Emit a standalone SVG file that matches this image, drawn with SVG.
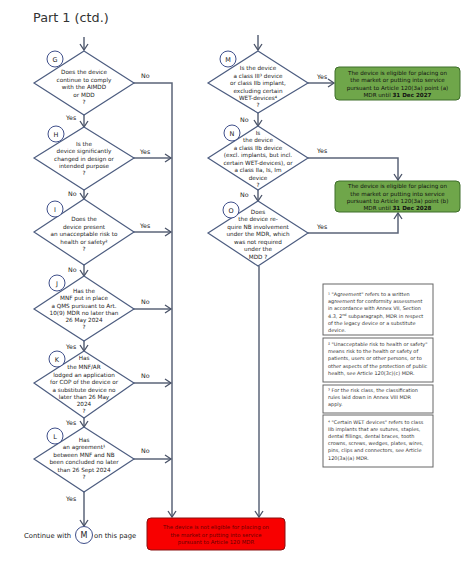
<svg xmlns="http://www.w3.org/2000/svg" width="474" height="571" viewBox="0 0 474 571">
<style>
text{font-family:"DejaVu Sans",Verdana,sans-serif;fill:#222}
.dt{font-size:5.7px;text-anchor:middle}
.lb{font-size:6.3px}
.dia{fill:#fff;stroke:#4d5d80;stroke-width:1.2}
.cir{fill:#fff;stroke:#3f4f8a;stroke-width:1}
.ct{font-size:6.5px;text-anchor:middle}
.con{fill:none;stroke:#5b6478;stroke-width:1.5}
.gb{fill:#6fa64a;stroke:#3e6e2a;stroke-width:1}
.gt{font-size:5.6px;text-anchor:middle;fill:#111}
.fn{fill:#fff;stroke:#666;stroke-width:1}
.ft{font-size:4.95px;fill:#333}
</style>
<defs>
<marker id="ar" markerUnits="userSpaceOnUse" markerWidth="10" markerHeight="10" refX="7" refY="5" orient="auto">
<path d="M1,1 L7,5 L1,9" fill="none" stroke="#4a5368" stroke-width="1.3"/>
</marker>
</defs>
<text x="33" y="22" style="font-size:12.8px;fill:#333">Part 1 (ctd.)</text>

<g id="connectors">
<path class="con" d="M84,37 V50" marker-end="url(#ar)"/>
<path class="con" d="M133,83 H172 V517" marker-end="url(#ar)"/>
<path class="con" d="M84,115 V127" marker-end="url(#ar)"/>
<path class="con" d="M133,158 H171" marker-end="url(#ar)"/>
<path class="con" d="M84,190 V199" marker-end="url(#ar)"/>
<path class="con" d="M133,232 H171" marker-end="url(#ar)"/>
<path class="con" d="M84,265 V276" marker-end="url(#ar)"/>
<path class="con" d="M133,309 H171" marker-end="url(#ar)"/>
<path class="con" d="M84,340 V351" marker-end="url(#ar)"/>
<path class="con" d="M133,383 H171" marker-end="url(#ar)"/>
<path class="con" d="M84,418 V427" marker-end="url(#ar)"/>
<path class="con" d="M133,459 H171" marker-end="url(#ar)"/>
<path class="con" d="M84,492 V526" marker-end="url(#ar)"/>
<path class="con" d="M258,35 V50" marker-end="url(#ar)"/>
<path class="con" d="M308,83 H334" marker-end="url(#ar)"/>
<path class="con" d="M258,113 V126" marker-end="url(#ar)"/>
<path class="con" d="M308,158 H398 V180" marker-end="url(#ar)"/>
<path class="con" d="M258,190 V201" marker-end="url(#ar)"/>
<path class="con" d="M308,233 H398 V213" marker-end="url(#ar)"/>
<path class="con" d="M259,266 V517" marker-end="url(#ar)"/>
<text class="lb" x="141" y="78">No</text>
<text class="lb" x="66" y="120">Yes</text>
<text class="lb" x="140" y="154">Yes</text>
<text class="lb" x="68" y="196">No</text>
<text class="lb" x="140" y="228">Yes</text>
<text class="lb" x="68" y="272">No</text>
<text class="lb" x="141" y="304">No</text>
<text class="lb" x="66" y="349">Yes</text>
<text class="lb" x="141" y="378">No</text>
<text class="lb" x="66" y="425">Yes</text>
<text class="lb" x="141" y="453">No</text>
<text class="lb" x="66" y="501">Yes</text>
<text class="lb" x="317" y="79">Yes</text>
<text class="lb" x="240" y="122">No</text>
<text class="lb" x="317" y="153">Yes</text>
<text class="lb" x="240" y="197">No</text>
<text class="lb" x="317" y="229">Yes</text>
</g>

<g id="G">
<polygon class="dia" points="84,51 134,83 84,115 34,83"/>
<circle class="cir" cx="55" cy="59" r="8"/><text class="ct" x="55" y="61.5">G</text>
<text class="dt" x="84" y="74">Does the device</text>
<text class="dt" x="84" y="81.5">continue to comply</text>
<text class="dt" x="84" y="89">with the AIMDD</text>
<text class="dt" x="84" y="96.5">or MDD</text>
<text class="dt" x="84" y="104">?</text>
</g>
<g id="H">
<polygon class="dia" points="84,127 134,158 84,190 34,158"/>
<circle class="cir" cx="56" cy="134" r="8"/><text class="ct" x="56" y="136.5">H</text>
<text class="dt" x="84" y="146">Is the</text>
<text class="dt" x="84" y="153">device significantly</text>
<text class="dt" x="84" y="160.5">changed in design or</text>
<text class="dt" x="84" y="168">intended purpose</text>
<text class="dt" x="84" y="175">?</text>
</g>
<g id="I">
<polygon class="dia" points="84,199 134,232 84,265 34,232"/>
<circle class="cir" cx="55" cy="209" r="8"/><text class="ct" x="55" y="211.5">I</text>
<text class="dt" x="84" y="221">Does the</text>
<text class="dt" x="84" y="228.5">device present</text>
<text class="dt" x="84" y="236">an unacceptable risk to</text>
<text class="dt" x="84" y="243.5">health or safety²</text>
<text class="dt" x="84" y="251">?</text>
</g>
<g id="J">
<polygon class="dia" points="84,276 134,309 84,341 34,309"/>
<circle class="cir" cx="57" cy="283" r="8"/><text class="ct" x="57" y="285.5">J</text>
<text class="dt" x="84" y="293">Has the</text>
<text class="dt" x="84" y="300">MNF put in place</text>
<text class="dt" x="84" y="307.5">a QMS pursuant to Art.</text>
<text class="dt" x="84" y="315">10(9) MDR no later than</text>
<text class="dt" x="84" y="322">26 May 2024</text>
<text class="dt" x="84" y="329">?</text>
</g>
<g id="K">
<polygon class="dia" points="84,351 134,383 84,418 34,383"/>
<circle class="cir" cx="57" cy="359" r="8"/><text class="ct" x="57" y="361.5">K</text>
<text class="dt" x="84" y="360">Has</text>
<text class="dt" x="84" y="369">the MNF/AR</text>
<text class="dt" x="84" y="376.5">lodged an application</text>
<text class="dt" x="84" y="384">for COP of the device or</text>
<text class="dt" x="84" y="391.5">a substitute device no</text>
<text class="dt" x="84" y="399">later than 26 May</text>
<text class="dt" x="84" y="406">2024</text>
<text class="dt" x="84" y="413">?</text>
</g>
<g id="L">
<polygon class="dia" points="84,427 134,459 84,492 34,459"/>
<circle class="cir" cx="55" cy="436" r="8"/><text class="ct" x="55" y="438.5">L</text>
<text class="dt" x="84" y="442">Has</text>
<text class="dt" x="84" y="449">an agreement¹</text>
<text class="dt" x="84" y="456.5">between MNF and NB</text>
<text class="dt" x="84" y="464">been concluded no later</text>
<text class="dt" x="84" y="471.5">than 26 Sept 2024</text>
<text class="dt" x="84" y="479">?</text>
</g>
<g id="continue">
<text x="24" y="537.5" style="font-size:6.8px">Continue with</text>
<circle class="cir" cx="84" cy="535" r="8.5"/><text class="ct" x="84" y="538" style="font-size:8px">M</text>
<text x="94" y="537.5" style="font-size:6.8px">on this page</text>
</g>
<g id="red">
<rect x="147" y="518" width="138" height="32" rx="4" fill="#f80000" stroke="#8a1010" stroke-width="1"/>
<text x="216" y="529" style="font-size:5.4px;text-anchor:middle;fill:#6a0000">The device is not eligible for placing on</text>
<text x="216" y="536.5" style="font-size:5.4px;text-anchor:middle;fill:#6a0000">the market or putting into service</text>
<text x="216" y="544" style="font-size:5.4px;text-anchor:middle;fill:#6a0000">pursuant to Article 120 MDR</text>
</g>

<g id="M">
<polygon class="dia" points="258,51 308,83 258,113 208,83"/>
<circle class="cir" cx="228" cy="59" r="8"/><text class="ct" x="228" y="61.5">M</text>
<text class="dt" x="258" y="70">Is the device</text>
<text class="dt" x="258" y="77.5">a class III³ device</text>
<text class="dt" x="258" y="85">or class IIb implant,</text>
<text class="dt" x="258" y="92.5">excluding certain</text>
<text class="dt" x="258" y="100">WET-devices⁴</text>
<text class="dt" x="258" y="107">?</text>
</g>
<g id="green1">
<rect class="gb" x="335" y="67" width="125" height="33" rx="4"/>
<text class="gt" x="397.5" y="74.5">The device is eligible for placing on</text>
<text class="gt" x="397.5" y="82">the market or putting into service</text>
<text class="gt" x="397.5" y="89.5">pursuant to Article 120(3a) point (a)</text>
<text class="gt" x="397.5" y="97">MDR until <tspan font-weight="bold">31 Dec 2027</tspan></text>
</g>
<g id="N">
<polygon class="dia" points="258,126 308,158 258,190 208,158"/>
<circle class="cir" cx="232" cy="133" r="8"/><text class="ct" x="232" y="135.5">N</text>
<text class="dt" x="258" y="134.5">Is</text>
<text class="dt" x="258" y="142">the device</text>
<text class="dt" x="258" y="149.5">a class IIb device</text>
<text class="dt" x="258" y="157">(excl. implants, but incl.</text>
<text class="dt" x="258" y="164.5">certain WET-devices), or</text>
<text class="dt" x="258" y="172">a class IIa, Is, Im</text>
<text class="dt" x="258" y="179.5">device</text>
<text class="dt" x="258" y="186.5">?</text>
</g>
<g id="green2">
<rect class="gb" x="335" y="181" width="125" height="31" rx="4"/>
<text class="gt" x="397.5" y="188">The device is eligible for placing on</text>
<text class="gt" x="397.5" y="195.5">the market or putting into service</text>
<text class="gt" x="397.5" y="203">pursuant to Article 120(3a) point (b)</text>
<text class="gt" x="397.5" y="210">MDR until <tspan font-weight="bold">31 Dec 2028</tspan></text>
</g>
<g id="O">
<polygon class="dia" points="258,201 308,233 258,266 208,233"/>
<circle class="cir" cx="231" cy="210" r="8"/><text class="ct" x="231" y="212.5">O</text>
<text class="dt" x="258" y="213.5">Does</text>
<text class="dt" x="258" y="221">the device re-</text>
<text class="dt" x="258" y="228.5">quire NB involvement</text>
<text class="dt" x="258" y="236">under the MDR, which</text>
<text class="dt" x="258" y="243.5">was not required</text>
<text class="dt" x="258" y="251">under the</text>
<text class="dt" x="258" y="258.5">MDD ?</text>
</g>

<g id="fn1">
<rect class="fn" x="323" y="284" width="110" height="51"/>
<text class="ft" x="328" y="296">¹ "Agreement" refers to a written</text>
<text class="ft" x="328" y="303.2">agreement for conformity assessment</text>
<text class="ft" x="328" y="310.4">in accordance with Annex VII, Section</text>
<text class="ft" x="328" y="317.6">4.3, 2<tspan font-size="3.5px" dy="-1.8">nd</tspan><tspan dy="1.8"> subparagraph, MDR in respect</tspan></text>
<text class="ft" x="328" y="324.8">of the legacy device or a substitute</text>
<text class="ft" x="328" y="332">device.</text>
</g>
<g id="fn2">
<rect class="fn" x="323" y="338" width="110" height="44"/>
<text class="ft" x="328" y="346">² "Unacceptable risk to health or safety"</text>
<text class="ft" x="328" y="353.2">means risk to the health or safety of</text>
<text class="ft" x="328" y="360.4">patients, users or other persons, or to</text>
<text class="ft" x="328" y="367.6">other aspects of the protection of public</text>
<text class="ft" x="328" y="374.8">health, see Article 120(3c)(c) MDR.</text>
</g>
<g id="fn3">
<rect class="fn" x="323" y="385" width="110" height="28"/>
<text class="ft" x="328" y="392">³ For the risk class, the classification</text>
<text class="ft" x="328" y="399.2">rules laid down in Annex VIII MDR</text>
<text class="ft" x="328" y="406.4">apply.</text>
</g>
<g id="fn4">
<rect class="fn" x="323" y="415" width="110" height="52"/>
<text class="ft" x="328" y="423.5">⁴ "Certain WET devices" refers to class</text>
<text class="ft" x="328" y="430.7">IIb implants that are sutures, staples,</text>
<text class="ft" x="328" y="437.9">dental fillings, dental braces, tooth</text>
<text class="ft" x="328" y="445.1">crowns, screws, wedges, plates, wires,</text>
<text class="ft" x="328" y="452.3">pins, clips and connectors, see Article</text>
<text class="ft" x="328" y="459.5">120(3a)(a) MDR.</text>
</g>
</svg>
